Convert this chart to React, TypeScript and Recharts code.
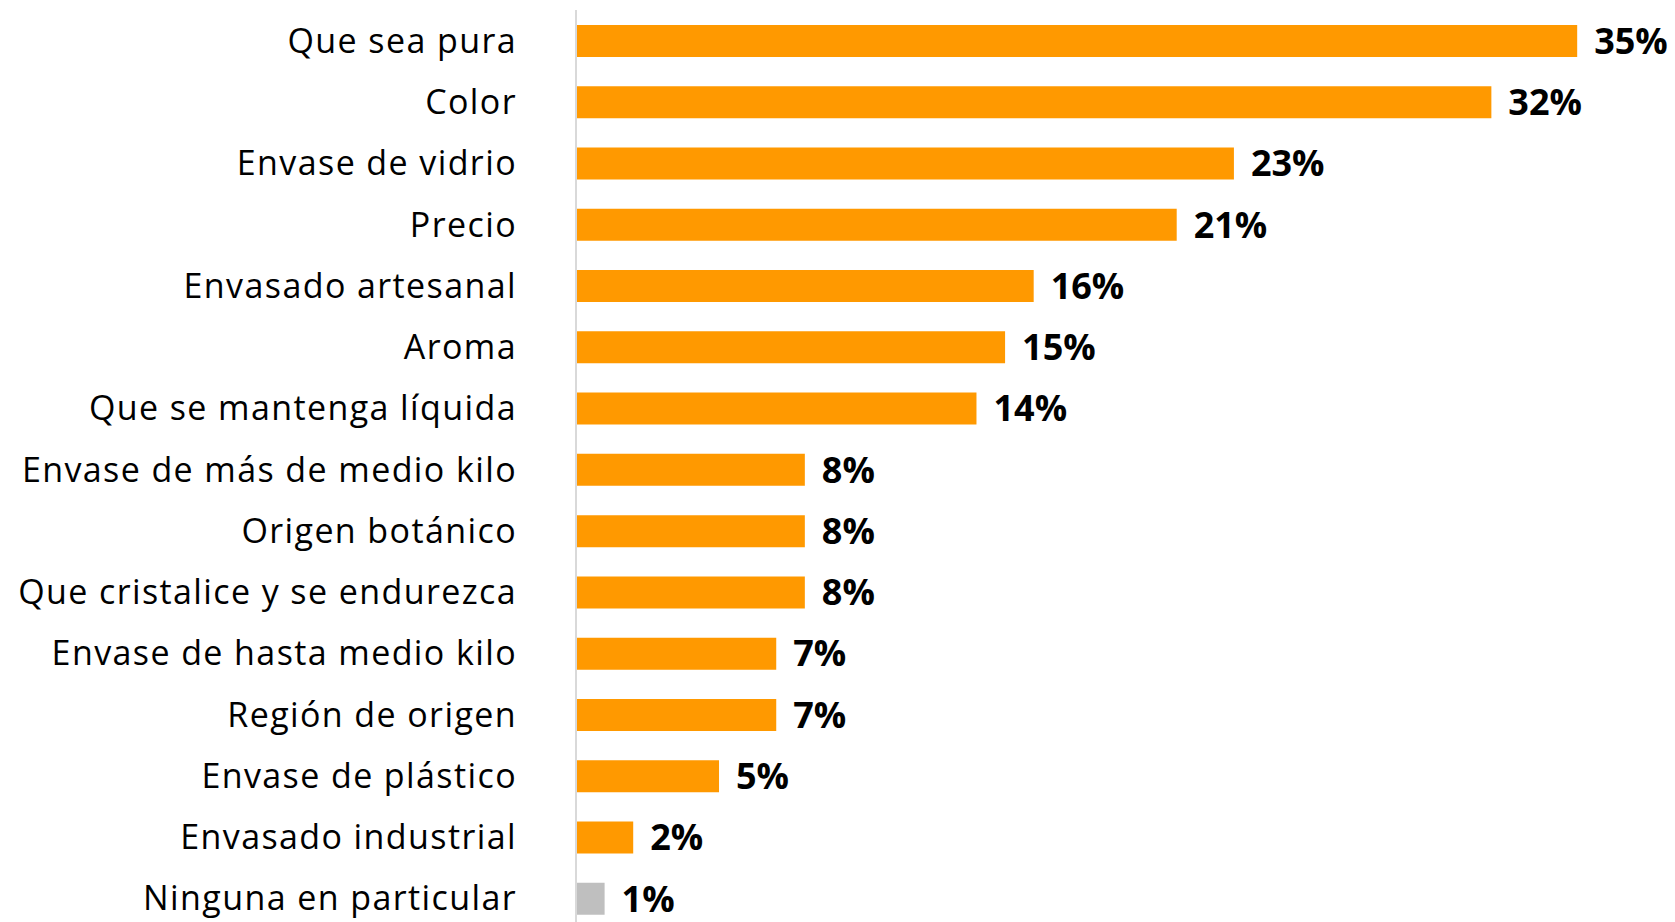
import React from "react";
import { BarChart, Bar, XAxis, YAxis, Cell, LabelList } from "recharts";

const categories = [
  "Que sea pura",
  "Color",
  "Envase de vidrio",
  "Precio",
  "Envasado artesanal",
  "Aroma",
  "Que se mantenga líquida",
  "Envase de más de medio kilo",
  "Origen botánico",
  "Que cristalice y se endurezca",
  "Envase de hasta medio kilo",
  "Región de origen",
  "Envase de plástico",
  "Envasado industrial",
  "Ninguna en particular",
];

const percents = [35, 32, 23, 21, 16, 15, 14, 8, 8, 8, 7, 7, 5, 2, 1];

const neutralCategory = "Ninguna en particular";

const data = categories.map((label, i) => ({ label, value: percents[i] }));

const FONT = "'Open Sans', Lato, sans-serif";

export default function App() {
  return (
    <div style={{ position: "fixed", left: 0, top: 0, width: 1675, height: 922, overflow: "hidden", background: "#fff" }}>
      <BarChart
        width={1675}
        height={930}
        data={data}
        layout="vertical"
        margin={{ top: 10, right: 12, bottom: 1, left: 0 }}
        style={{ fontFamily: FONT }}
      >
        <XAxis type="number" domain={[0, 38]} hide />
        <YAxis
          type="category"
          dataKey="label"
          width={576}
          interval={0}
          tickSize={0}
          tickMargin={59}
          tickLine={false}
          axisLine={{ stroke: "#d9d9d9", strokeWidth: 2 }}
          tick={{ fill: "#000", fontSize: 34, fontFamily: FONT, style: { letterSpacing: "1.4px" } }}
        />
        <Bar dataKey="value" barSize={32} isAnimationActive={false}>
          {data.map((d) => (
            <Cell key={d.label} fill={d.label === neutralCategory ? "#bfbfbf" : "#ff9900"} />
          ))}
          <LabelList
            dataKey="value"
            position="right"
            offset={17}
            formatter={(v: number) => `${v}%`}
            style={{ fill: "#000", fontSize: 36, fontWeight: 700, fontFamily: FONT }}
          />
        </Bar>
      </BarChart>
    </div>
  );
}
